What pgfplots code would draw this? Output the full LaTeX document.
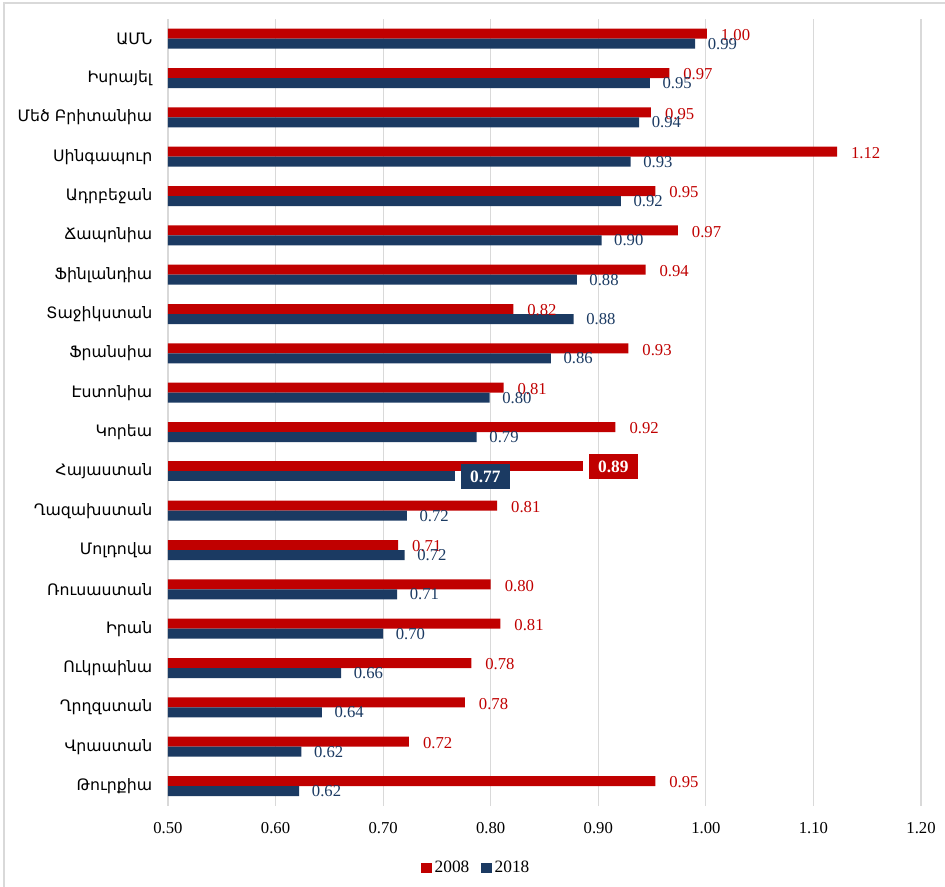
\documentclass[border=0pt]{standalone}
\usepackage{fontspec}
\setmainfont{Liberation Serif}
\newfontfamily\arm{DejaVu Sans}
\usepackage{pgfplots}
\pgfplotsset{compat=1.18}
\definecolor{cred}{HTML}{C00000}
\definecolor{cblue}{HTML}{1B3A62}
\definecolor{gridc}{HTML}{D9D9D9}
\newcommand{\num}[1]{\pgfmathprintnumber[fixed,fixed zerofill,precision=2,assume math mode=true]{#1}}
\begin{document}
\begin{tikzpicture}
\useasboundingbox (-126pt,-60.2pt) rectangle (582.75pt,604.3pt);
\draw[gridc, line width=2pt] (-123pt,-61pt) -- (-123pt,602pt) -- (583pt,602pt);
\begin{axis}[
  scale only axis, width=564.75pt, height=590pt,
  xmin=0.5, xmax=1.2, ymin=-0.5, ymax=19.5,
  xtick={0.5,0.6,0.7,0.8,0.9,1.0,1.1,1.2},
  xticklabel style={font=\fontsize{12.5}{14}\selectfont, yshift=-9pt, /pgf/number format/.cd, fixed, fixed zerofill, precision=2, assume math mode=true},
  ytick={0,...,19},
  yticklabels={Թուրքիա,Վրաստան,Ղրղզստան,Ուկրաինա,Իրան,Ռուսաստան,Մոլդովա,Ղազախստան,Հայաստան,Կորեա,Էստոնիա,Ֆրանսիա,Տաջիկստան,Ֆինլանդիա,Ճապոնիա,Ադրբեջան,Սինգապուր,Մեծ Բրիտանիա,Իսրայել,ԱՄՆ},
  yticklabel style={font=\arm\fontsize{11.8}{13}\selectfont, xshift=-4pt},
  axis line style={draw=none},
  tick style={draw=none},
  xmajorgrids, grid style={gridc, line width=0.8pt},
  xbar, bar width=7.5pt,
  point meta=x,
  legend style={at={(0.41,-0.079)}, anchor=center, draw=none, legend columns=2,
    font=\fontsize{13}{15}\selectfont, /tikz/every even column/.append style={column sep=7pt}},
  legend image code/.code={\fill[#1] (0pt,-4pt) rectangle (8pt,4pt);},
]
\addplot[fill=cred, draw=none, bar shift=3.75pt,
  nodes near coords={\num{\pgfplotspointmeta}},
  every node near coord/.append style={anchor=west, xshift=7pt, yshift=-1pt, text=cred, font=\fontsize{12.5}{14}\selectfont}]
  coordinates {(1.001,19) (0.966,18) (0.949,17) (1.122,16) (0.953,15) (0.974,14) (0.944,13) (0.821,12) (0.928,11) (0.812,10) (0.916,9) (0.806,7) (0.714,6) (0.800,5) (0.809,4) (0.782,3) (0.776,2) (0.724,1) (0.953,0)};
\addlegendentry{2008}
\addplot[fill=cblue, draw=none, bar shift=-3.75pt,
  nodes near coords={\num{\pgfplotspointmeta}},
  every node near coord/.append style={anchor=west, xshift=6pt, text=cblue, font=\fontsize{12.5}{14}\selectfont}]
  coordinates {(0.990,19) (0.948,18) (0.938,17) (0.930,16) (0.921,15) (0.903,14) (0.880,13) (0.877,12) (0.856,11) (0.799,10) (0.787,9) (0.722,7) (0.720,6) (0.713,5) (0.700,4) (0.661,3) (0.643,2) (0.624,1) (0.622,0)};
\addlegendentry{2018}
\addplot[fill=cred, draw=none, bar shift=3.75pt, forget plot,
  nodes near coords={\num{\pgfplotspointmeta}},
  every node near coord/.append style={anchor=west, xshift=4pt, fill=cred, text=white, inner xsep=7pt, inner ysep=5pt, font=\bfseries\fontsize{13}{15}\selectfont}]
  coordinates {(0.886,8)};
\addplot[fill=cblue, draw=none, bar shift=-3.75pt, forget plot,
  nodes near coords={\num{\pgfplotspointmeta}},
  every node near coord/.append style={anchor=west, xshift=4pt, fill=cblue, text=white, inner xsep=7pt, inner ysep=5pt, font=\bfseries\fontsize{13}{15}\selectfont}]
  coordinates {(0.767,8)};
\end{axis}
\end{tikzpicture}
\end{document}
